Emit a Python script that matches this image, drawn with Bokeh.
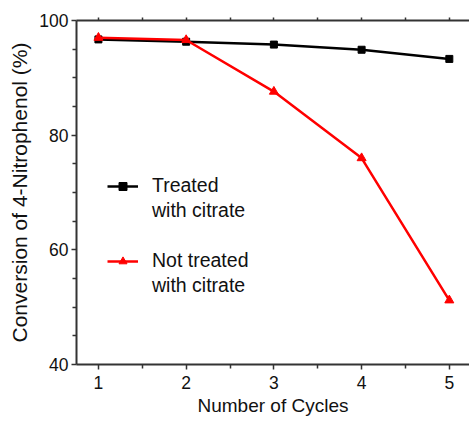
from bokeh.plotting import figure
from bokeh.models import Legend, LegendItem, LinearAxis, FixedTicker, Range1d
from bokeh.embed import file_html
from bokeh.resources import INLINE

cycles = [1, 2, 3, 4, 5]
treated = [96.7, 96.3, 95.8, 94.9, 93.3]
not_treated = [97.0, 96.6, 87.6, 76.0, 51.2]
x_ticks = [1, 2, 3, 4, 5]
x_minor = [1.5, 2.5, 3.5, 4.5]
y_ticks = [40, 60, 80, 100]
y_minor = [45, 50, 55, 65, 70, 75, 85, 90, 95]

FONT = "Liberation Sans"
AX = "#333333"

p = figure(width=469, height=422, output_backend="svg", toolbar_location=None,
           x_range=Range1d(0.75, 5.23), y_range=Range1d(40, 100),
           min_border_left=76, min_border_right=0, min_border_top=20, min_border_bottom=58)
p.frame_width = 393
p.frame_height = 344
p.outline_line_color = None
p.grid.visible = False
p.background_fill_color = "white"

for ax in (p.xaxis[0], p.yaxis[0]):
    ax.axis_line_color = AX
    ax.axis_line_width = 2
    ax.major_tick_line_color = AX
    ax.minor_tick_line_color = AX
    ax.major_tick_line_width = 1.5
    ax.minor_tick_line_width = 1.5
    ax.major_tick_in = 0
    ax.minor_tick_in = 0
    ax.major_tick_out = 5
    ax.minor_tick_out = 4
    ax.major_label_text_font = FONT
    ax.major_label_text_font_size = "17.5px"
    ax.major_label_text_color = "#111111"
    ax.axis_label_text_font = FONT
    ax.axis_label_text_font_style = "normal"
    ax.axis_label_text_color = "#111111"

p.xaxis.axis_label_text_font_size = "19px"
p.yaxis.axis_label_text_font_size = "21px"
p.xaxis.ticker = FixedTicker(ticks=x_ticks, minor_ticks=x_minor)
p.yaxis.ticker = FixedTicker(ticks=y_ticks, minor_ticks=y_minor)
p.xaxis.axis_label = "Number of Cycles"
p.yaxis.axis_label = "Conversion of 4-Nitrophenol (%)"
p.xaxis.major_label_standoff = 6
p.xaxis.axis_label_standoff = 3
p.yaxis.major_label_standoff = 3
p.yaxis.axis_label_standoff = 5

top = LinearAxis(ticker=FixedTicker(ticks=x_ticks + x_minor), major_label_text_font_size="0px",
                 axis_line_color=AX, axis_line_width=2, major_tick_line_color=AX,
                 major_tick_line_width=1.5, major_tick_in=0, major_tick_out=3,
                 minor_tick_line_color=None)
p.add_layout(top, "above")
p.min_border_top = 20

l1 = p.line(cycles, treated, line_color="black", line_width=2.5)
s1 = p.scatter(cycles, treated, marker="square", size=7, color="black")
l2 = p.line(cycles, not_treated, line_color="red", line_width=2.5)
s2 = p.scatter(cycles, not_treated, marker="triangle", size=9, color="red")
blank = p.line([], [], line_alpha=0)

legend = Legend(items=[
    LegendItem(label="Treated", renderers=[l1, s1]),
    LegendItem(label="with citrate", renderers=[blank]),
    LegendItem(label=" ", renderers=[blank]),
    LegendItem(label="Not treated", renderers=[l2, s2]),
    LegendItem(label="with citrate", renderers=[blank]),
], location=(31, 66), border_line_alpha=0, background_fill_alpha=0,
   padding=0, margin=0, spacing=0, label_height=25, glyph_height=20, glyph_width=31,
   label_standoff=14, label_text_font=FONT, label_text_font_size="19.5px",
   label_text_color="#111111")
p.add_layout(legend, "center")

open("out.html", "w").write(file_html(p, INLINE))
